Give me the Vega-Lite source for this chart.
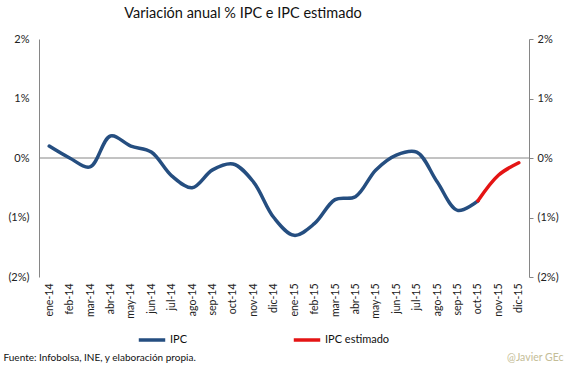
{
  "$schema": "https://vega.github.io/schema/vega-lite/v6.json",
  "width": 490,
  "height": 238,
  "autosize": {"type": "none"},
  "padding": {"left": 39, "top": 39, "right": 37, "bottom": 102},
  "background": "white",
  "config": {"font": "Lato", "view": {"stroke": null}},
  "title": {"text": "Variación anual % IPC e IPC estimado", "fontSize": 14.5, "fontWeight": "normal", "color": "#111", "anchor": "middle", "dx": -41, "offset": 12, "font": "Lato"},
  "data": {"values": [
    {"mes": "ene-14", "v": 0.2, "serie": "IPC"},
    {"mes": "feb-14", "v": 0.0, "serie": "IPC"},
    {"mes": "mar-14", "v": -0.15, "serie": "IPC"},
    {"mes": "abr-14", "v": 0.37, "serie": "IPC"},
    {"mes": "may-14", "v": 0.2, "serie": "IPC"},
    {"mes": "jun-14", "v": 0.1, "serie": "IPC"},
    {"mes": "jul-14", "v": -0.3, "serie": "IPC"},
    {"mes": "ago-14", "v": -0.5, "serie": "IPC"},
    {"mes": "sep-14", "v": -0.2, "serie": "IPC"},
    {"mes": "oct-14", "v": -0.1, "serie": "IPC"},
    {"mes": "nov-14", "v": -0.4, "serie": "IPC"},
    {"mes": "dic-14", "v": -1.0, "serie": "IPC"},
    {"mes": "ene-15", "v": -1.3, "serie": "IPC"},
    {"mes": "feb-15", "v": -1.1, "serie": "IPC"},
    {"mes": "mar-15", "v": -0.7, "serie": "IPC"},
    {"mes": "abr-15", "v": -0.65, "serie": "IPC"},
    {"mes": "may-15", "v": -0.2, "serie": "IPC"},
    {"mes": "jun-15", "v": 0.05, "serie": "IPC"},
    {"mes": "jul-15", "v": 0.1, "serie": "IPC"},
    {"mes": "ago-15", "v": -0.4, "serie": "IPC"},
    {"mes": "sep-15", "v": -0.88, "serie": "IPC"},
    {"mes": "oct-15", "v": -0.72, "serie": "IPC"},
    {"mes": "oct-15", "v": -0.72, "serie": "IPC estimado"},
    {"mes": "nov-15", "v": -0.29, "serie": "IPC estimado"},
    {"mes": "dic-15", "v": -0.08, "serie": "IPC estimado"}
  ]},
  "encoding": {
    "x": {"field": "mes", "type": "ordinal", "sort": null,
      "scale": {"type": "point", "padding": 0.5},
      "axis": {"orient": "bottom", "domain": false, "ticks": false, "labelAngle": -90, "labelPadding": 6, "labelFontSize": 10.5, "labelColor": "#222", "labelFont": "Lato",
        "title": "Fuente: Infobolsa, INE,  y elaboración propia.", "titleFontSize": 10, "titleFontWeight": "normal", "titleColor": "#111", "titleAnchor": "start", "titleAlign": "left", "titleX": -36, "titleY": 80, "titleBaseline": "middle", "titleFont": "Lato"}}
  },
  "layer": [
    {
      "mark": {"type": "rule", "color": "#868686", "strokeWidth": 1},
      "data": {"values": [{"z": 0}]},
      "encoding": {
        "x": null,
        "y": {"field": "z", "type": "quantitative", "scale": {"domain": [-2, 2], "nice": false},
          "axis": {"orient": "right", "values": [-2, -1, 0, 1, 2], "domainColor": "#868686", "tickColor": "#868686", "tickSize": 4, "labelPadding": 4, "grid": false, "labelFontSize": 11, "labelColor": "#222", "labelFont": "Lato",
            "labelExpr": "datum.value < 0 ? '(' + abs(datum.value) + '%)' : datum.value + '%'",
            "title": "@Javier GEc", "titleAngle": 0, "titleX": 34, "titleY": 318, "titleAlign": "right", "titleBaseline": "middle", "titleFontSize": 10.5, "titleFontWeight": "normal", "titleColor": "#C4BD97", "titleFont": "Lato"}}
      }
    },
    {
      "mark": {"type": "line", "strokeWidth": 3.5, "interpolate": "catmull-rom", "strokeCap": "round"},
      "encoding": {
        "y": {"field": "v", "type": "quantitative", "scale": {"domain": [-2, 2], "nice": false},
          "axis": {"orient": "left", "values": [-2, -1, 0, 1, 2], "domainColor": "#868686", "ticks": false, "labelPadding": 10, "grid": false, "labelFontSize": 11, "labelColor": "#222", "labelFont": "Lato",
            "labelExpr": "datum.value < 0 ? '(' + abs(datum.value) + '%)' : datum.value + '%'", "title": null}},
        "color": {"field": "serie", "type": "nominal",
          "scale": {"domain": ["IPC", "IPC estimado"], "range": ["#254E80", "#E41414"]},
          "legend": {"orient": "none", "legendX": 98, "legendY": 286, "direction": "horizontal", "title": null, "symbolType": "stroke", "symbolStrokeWidth": 3.5, "symbolSize": 700, "labelFontSize": 11, "labelColor": "#111", "labelFont": "Lato", "columnPadding": 98, "labelOffset": 3}}
      }
    }
  ],
  "resolve": {"axis": {"y": "independent"}}
}
